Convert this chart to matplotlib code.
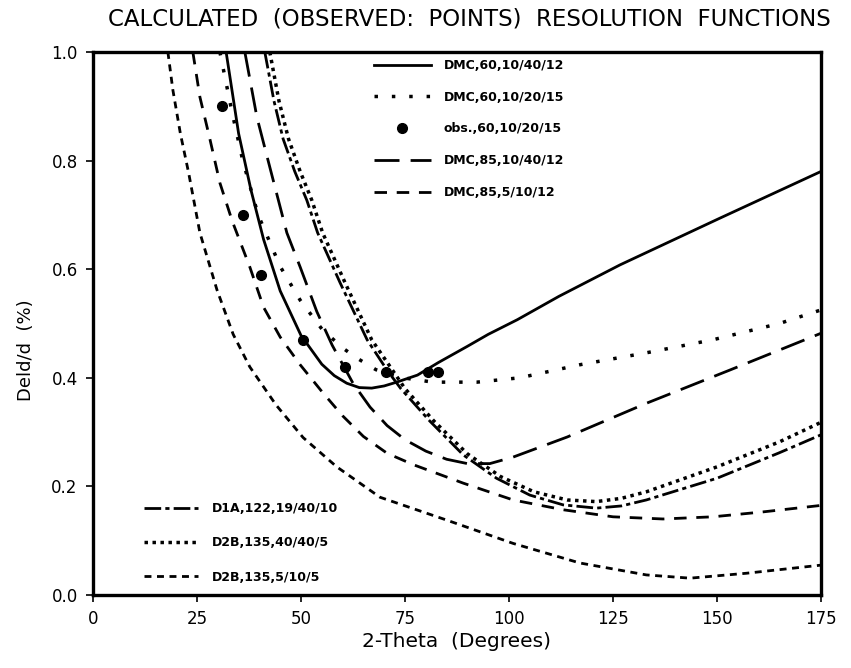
import matplotlib
matplotlib.use("Agg")
import matplotlib.pyplot as plt

plt.rcParams['font.family'] = ['DejaVu Sans']

# DMC,60,10/40/12 (solid)
x_dmc60a = [32, 35, 38, 41, 45, 50, 55, 58, 61, 64, 67, 70, 73, 78, 83, 90, 95, 102, 112, 126.7, 150.7, 175]
y_dmc60a = [1.0, 0.85, 0.745, 0.655, 0.56, 0.478, 0.425, 0.404, 0.39, 0.382, 0.381, 0.385, 0.392, 0.405, 0.428, 0.458, 0.48, 0.507, 0.55, 0.608, 0.694, 0.78]

# DMC,60,10/20/15 (sparse dots)
x_dmc60b = [30.5, 33.4, 36, 39.7, 45, 49.8, 55, 60, 63.5, 68, 74.5, 81.7, 92.3, 102.6, 117, 133, 149, 165, 175]
y_dmc60b = [1.0, 0.89, 0.80, 0.70, 0.605, 0.543, 0.49, 0.455, 0.436, 0.415, 0.40, 0.392, 0.392, 0.40, 0.424, 0.446, 0.47, 0.50, 0.525]

# obs.,60,10/20/15
x_obs = [31, 36, 40.5, 50.5, 60.5, 70.5, 80.5, 83]
y_obs = [0.90, 0.70, 0.59, 0.47, 0.42, 0.41, 0.41, 0.41]

# DMC,85,10/40/12 (long dash)
x_dmc85a = [36.5, 39.4, 42.5, 46.6, 49.8, 53.8, 57.5, 62.5, 66.6, 70.7, 75, 80, 85, 90, 95.4, 101, 114, 133, 153, 175]
y_dmc85a = [1.0, 0.88, 0.788, 0.667, 0.604, 0.522, 0.46, 0.39, 0.346, 0.312, 0.286, 0.265, 0.25, 0.242, 0.242, 0.254, 0.291, 0.353, 0.414, 0.482]

# DMC,85,5/10/12 (dash)
x_dmc85b = [24, 25.7, 28, 30.5, 33.5, 37.7, 41, 45, 49.8, 55.3, 60, 65, 70.7, 77, 89, 101, 113, 125, 137, 149, 161, 175]
y_dmc85b = [1.0, 0.917, 0.843, 0.759, 0.688, 0.604, 0.53, 0.475, 0.424, 0.372, 0.33, 0.292, 0.261, 0.24, 0.206, 0.175, 0.157, 0.144, 0.14, 0.144, 0.153, 0.165]

# D1A,122,19/40/10 (dash-dot)
x_d1a = [41.3, 43.5, 45.7, 48.5, 51.4, 54, 59.4, 65.9, 70.7, 74, 81, 89, 97, 105, 113, 121, 127, 133, 150, 165, 175]
y_d1a = [1.0, 0.91, 0.84, 0.78, 0.727, 0.667, 0.575, 0.47, 0.414, 0.38, 0.32, 0.258, 0.215, 0.184, 0.166, 0.16, 0.164, 0.175, 0.215, 0.262, 0.295]

# D2B,135,40/40/5 (dense dots)
x_d2b_a = [42.5, 44.7, 47, 49.8, 52.6, 55.2, 60.6, 67, 72, 75, 82, 90, 98, 106, 114, 121, 127, 133, 150, 165, 175]
y_d2b_a = [1.0, 0.91, 0.84, 0.78, 0.727, 0.667, 0.575, 0.47, 0.414, 0.38, 0.32, 0.26, 0.218, 0.19, 0.175, 0.172, 0.178, 0.19, 0.236, 0.282, 0.318]

# D2B,135,5/10/5 (short dash)
x_d2b_b = [18, 19.2, 21, 23, 25.7, 29.8, 33.7, 37.7, 44, 50.5, 58.6, 69, 85, 101, 117, 133, 143.5, 157, 175]
y_d2b_b = [1.0, 0.93, 0.85, 0.777, 0.667, 0.562, 0.48, 0.42, 0.35, 0.29, 0.236, 0.18, 0.138, 0.095, 0.059, 0.037, 0.031, 0.04, 0.055]

fig = plt.figure(figsize=(8.51, 6.68), dpi=100)
ax = fig.add_axes([93/851, 1-595/668, (821-93)/851, (595-52)/668])

l1, = ax.plot(x_dmc60a, y_dmc60a, color='black', lw=2.0, ls='-')
l2, = ax.plot(x_dmc60b, y_dmc60b, color='black', lw=2.5, ls=(0, (1, 4)))
l3, = ax.plot(x_obs, y_obs, 'o', color='black', ms=7, ls='none')
l4, = ax.plot(x_dmc85a, y_dmc85a, color='black', lw=2.0, ls=(0, (9, 4)))
l5, = ax.plot(x_dmc85b, y_dmc85b, color='black', lw=2.0, ls=(0, (4.5, 3.5)))
l6, = ax.plot(x_d1a, y_d1a, color='black', lw=2.0, ls=(0, (6, 1.5, 1.5, 1.5)))
l7, = ax.plot(x_d2b_a, y_d2b_a, color='black', lw=2.5, ls=(0, (1, 1.3)))
l8, = ax.plot(x_d2b_b, y_d2b_b, color='black', lw=2.0, ls=(0, (2.5, 2)))

ax.set_xlim(0, 175)
ax.set_ylim(0, 1.0)
ax.set_xticks([0, 25, 50, 75, 100, 125, 150, 175])
ax.set_yticks([0.0, 0.2, 0.4, 0.6, 0.8, 1.0])
ax.set_yticklabels(['0.0', '0.2', '0.4', '0.6', '0.8', '1.0'])
ax.tick_params(labelsize=12, width=1.2, length=5, direction='out', pad=6)
for s in ax.spines.values():
    s.set_linewidth(2.4)

ax.set_xlabel('2-Theta  (Degrees)', fontsize=14.5, labelpad=3)
ax.set_ylabel('Deld/d  (%)', fontsize=13)
ax.yaxis.set_label_coords(-0.08, 0.45)
fig.text(0.551, 0.972, 'CALCULATED  (OBSERVED:  POINTS)  RESOLUTION  FUNCTIONS',
         ha='center', va='center', fontsize=16.5)

leg1 = ax.legend([l1, l2, l3, l4, l5],
                 ['DMC,60,10/40/12', 'DMC,60,10/20/15', 'obs.,60,10/20/15',
                  'DMC,85,10/40/12', 'DMC,85,5/10/12'],
                 loc='upper left', bbox_to_anchor=(0.37, 1.008), frameon=False,
                 prop={'size': 9, 'weight': 'bold'}, handlelength=4.6,
                 labelspacing=1.5, handletextpad=1.0, numpoints=1)
ax.add_artist(leg1)
ax.legend([l6, l7, l8],
          ['D1A,122,19/40/10', 'D2B,135,40/40/5', 'D2B,135,5/10/5'],
          loc='lower left', bbox_to_anchor=(0.055, 0.0), frameon=False,
          prop={'size': 9, 'weight': 'bold'}, handlelength=4.3,
          labelspacing=1.7, handletextpad=1.1)

fig.savefig('out.png', dpi=100)
